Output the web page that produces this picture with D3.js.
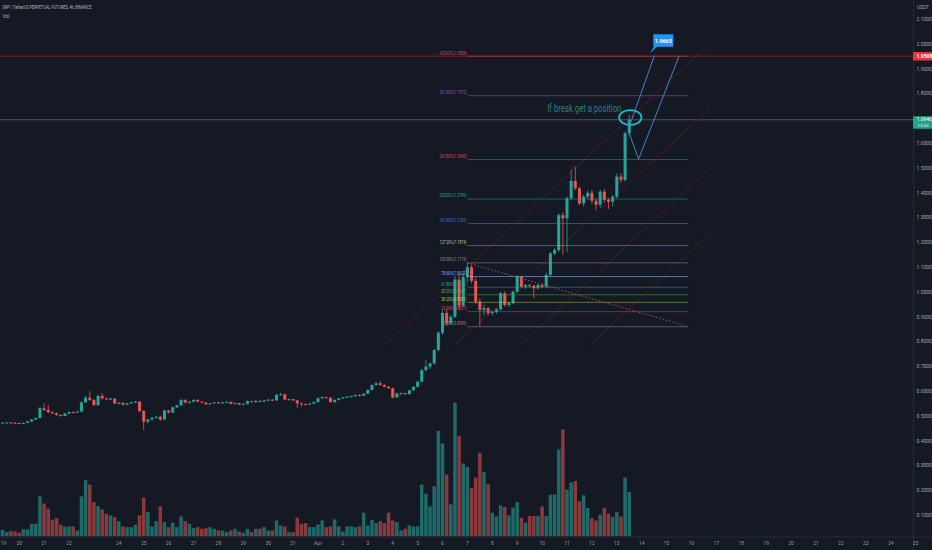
<!DOCTYPE html>
<html>
<head>
<meta charset="utf-8">
<script src="https://cdn.jsdelivr.net/npm/d3@7"></script>
<style>
  html, body { margin: 0; padding: 0; background: #151924; overflow: hidden; }
  svg { display: block; font-family: Roboto, "Liberation Sans", sans-serif; }
</style>
</head>
<body>
<script>
// 4h candles from 2021-03-19 04:00 UTC: [open, high, low, close]
const candles = [
  [.470,.473,.468,.472],[.472,.474,.470,.473],[.473,.476,.471,.474],[.474,.476,.471,.473],
  [.473,.475,.470,.472],[.472,.474,.467,.470],[.470,.474,.468,.472],[.472,.480,.471,.478],
  [.478,.488,.476,.486],[.486,.494,.484,.492],[.492,.536,.490,.531],[.531,.551,.520,.524],
  [.524,.545,.512,.515],[.515,.520,.508,.511],[.511,.514,.501,.504],[.504,.507,.497,.500],
  [.500,.512,.498,.510],[.510,.519,.507,.516],[.516,.519,.511,.514],[.514,.521,.512,.518],
  [.518,.559,.516,.555],[.555,.580,.552,.574],[.574,.600,.561,.565],[.565,.569,.540,.544],
  [.544,.586,.541,.581],[.581,.593,.567,.571],[.571,.575,.563,.567],[.567,.574,.564,.570],
  [.570,.572,.548,.551],[.551,.557,.548,.553],[.553,.556,.543,.546],[.546,.553,.543,.551],
  [.551,.558,.548,.555],[.555,.561,.552,.558],[.558,.560,.516,.520],[.520,.524,.443,.477],
  [.477,.489,.470,.486],[.486,.497,.482,.493],[.493,.500,.489,.497],[.497,.501,.480,.486],
  [.486,.526,.483,.522],[.522,.525,.510,.514],[.514,.538,.511,.535],[.535,.546,.531,.543],
  [.543,.568,.540,.565],[.565,.567,.551,.554],[.554,.560,.551,.558],[.558,.568,.555,.565],
  [.565,.567,.555,.558],[.558,.560,.551,.554],[.554,.556,.544,.547],[.547,.553,.545,.551],
  [.551,.557,.549,.555],[.555,.557,.550,.552],[.552,.558,.550,.555],[.555,.559,.553,.557],
  [.557,.559,.546,.549],[.549,.554,.547,.552],[.552,.553,.543,.546],[.546,.551,.544,.549],
  [.549,.563,.547,.560],[.560,.562,.554,.556],[.556,.564,.554,.561],[.561,.563,.556,.558],
  [.558,.565,.556,.563],[.563,.568,.561,.566],[.566,.568,.560,.563],[.563,.588,.561,.585],
  [.585,.594,.582,.588],[.588,.590,.563,.566],[.566,.570,.563,.568],[.568,.570,.560,.563],
  [.563,.565,.531,.551],[.551,.554,.538,.548],[.548,.551,.543,.546],[.546,.553,.544,.550],
  [.550,.559,.548,.556],[.556,.574,.554,.572],[.572,.579,.569,.576],[.576,.578,.570,.574],
  [.574,.575,.553,.556],[.556,.567,.554,.565],[.565,.573,.562,.571],[.571,.577,.569,.575],
  [.575,.580,.572,.578],[.578,.582,.576,.580],[.580,.587,.578,.585],[.585,.587,.579,.582],
  [.582,.592,.580,.590],[.590,.607,.588,.605],[.605,.627,.603,.625],[.625,.636,.622,.632],
  [.632,.640,.622,.625],[.625,.628,.615,.618],[.618,.621,.608,.612],[.612,.615,.570,.575],
  [.575,.594,.572,.591],[.591,.595,.587,.592],[.592,.594,.585,.588],[.588,.606,.586,.604],
  [.604,.620,.601,.618],[.618,.642,.615,.638],[.638,.690,.635,.685],[.685,.726,.680,.699],
  [.699,.716,.690,.712],[.712,.770,.708,.766],[.766,.842,.760,.836],[.836,.925,.828,.916],
  [.916,.930,.862,.874],[.874,.908,.868,.900],[.900,1.065,.895,1.050],[1.050,1.070,.930,.945],
  [.945,1.075,.940,1.060],[1.060,1.1174,1.040,1.100],[1.100,1.108,1.035,1.045],[1.045,1.058,.952,.961],
  [.961,.975,.8599,.928],[.928,.948,.905,.935],[.935,.940,.905,.915],[.915,.925,.905,.920],
  [.920,.935,.912,.930],[.930,1.000,.925,.995],[.995,1.003,.940,.948],[.948,.962,.940,.955],
  [.955,1.005,.950,1.001],[1.001,1.068,.995,1.062],[1.062,1.066,1.015,1.021],[1.021,1.032,1.012,1.028],
  [1.028,1.033,1.018,1.025],[1.025,1.030,.975,1.015],[1.015,1.032,1.010,1.028],[1.028,1.035,1.015,1.021],
  [1.021,1.078,1.018,1.069],[1.069,1.162,1.062,1.156],[1.156,1.178,1.148,1.169],[1.169,1.318,1.160,1.310],
  [1.310,1.322,1.150,1.297],[1.297,1.385,1.160,1.378],[1.378,1.495,1.370,1.448],[1.448,1.505,1.410,1.418],
  [1.418,1.425,1.350,1.357],[1.357,1.392,1.345,1.384],[1.384,1.410,1.375,1.400],[1.400,1.412,1.355,1.368],
  [1.368,1.375,1.330,1.352],[1.352,1.412,1.340,1.405],[1.405,1.415,1.360,1.372],[1.372,1.380,1.335,1.364],
  [1.364,1.392,1.345,1.384],[1.384,1.478,1.378,1.465],[1.465,1.480,1.440,1.452],[1.452,1.648,1.445,1.640],
  [1.640,1.714,1.630,1.6946]
];

// volume per candle (millions)
const volume = [
  67, 67, 43, 53, 50, 37, 73, 73, 127, 127, 400, 327, 277, 167, 183, 117, 100, 100, 100, 60,
  400, 560, 517, 343, 303, 270, 227, 210, 193, 153, 100, 93, 93, 117, 210, 387, 243, 100, 153, 300,
  143, 93, 137, 93, 200, 153, 127, 83, 93, 77, 83, 93, 77, 60, 60, 43, 60, 77, 50, 37,
  77, 43, 77, 77, 93, 60, 60, 160, 110, 100, 43, 43, 187, 127, 133, 93, 93, 120, 160, 93,
  100, 170, 100, 50, 100, 100, 93, 100, 237, 110, 167, 133, 153, 133, 237, 160, 143, 60, 77, 110,
  100, 100, 517, 427, 300, 500, 1053, 927, 617, 320, 1333, 1000, 727, 693, 483, 587, 833, 643, 520, 237,
  200, 310, 293, 210, 287, 343, 187, 137, 203, 203, 203, 300, 203, 417, 417, 867, 1067, 467, 537, 553,
  350, 410, 283, 183, 160, 217, 287, 227, 193, 243, 200, 587, 443
];

const priceTicks = [0.1, 0.2, 0.3, 0.4, 0.5, 0.6, 0.7, 0.8, 0.9, 1.0, 1.1, 1.2, 1.3, 1.4, 1.5, 1.6, 1.8, 1.9, 2.0, 2.1];

// fib retracement drawn from the Apr 7 high to the Apr 7 low
const fibRatios = ["0.00%", "23.60%", "38.20%", "50.00%", "61.80%", "78.60%", "100.00%", "127.20%", "161.80%", "200.00%", "261.80%", "361.80%", "423.60%"];
const fibPrices = [0.8599, 0.9207, 0.9583, 0.9887, 1.0190, 1.0623, 1.1174, 1.1874, 1.2765, 1.3749, 1.5340, 1.7915, 1.9508];
const fibColors = ["#8a8d96", "#e0454f", "#a7c957", "#4caf50", "#26a69a", "#7fb4f0", "#8a8d96", "#b9c4a0", "#3d74e0", "#22a58f", "#e04a55", "#a04ab8", "#d64562"];
const fibOpacity = [0.55, 0.5, 0.5, 0.5, 0.5, 0.6, 0.55, 0.4, 0.6, 0.5, 0.5, 0.55, 0.5];

const lastPrice = 1.6946;
const targetPrice = 1.9508;

const width = 932, height = 550;
const plotRight = 913, plotBottom = 536.5;
const bg = "#151924";
const upColor = "#26a69a", downColor = "#ef5350";

const startTime = Date.UTC(2021, 2, 19, 4);
const barMs = 4 * 3600 * 1000;
const times = candles.map((d, i) => new Date(startTime + i * barMs));

// Scales
const x = d3.scaleUtc()
    .domain([new Date(Date.UTC(2021, 2, 19)), new Date(Date.UTC(2021, 3, 26))])
    .range([-5.7, 940.5]);

const y = d3.scaleLinear()
    .domain([0, 2.1])
    .range([540, 19.2]);

const yVol = d3.scaleLinear()
    .domain([0, d3.max(volume)])
    .range([plotBottom, 402.7]);

const T = (mo, d, h) => new Date(Date.UTC(2021, mo, d, h || 0));

const svg = d3.select("body").append("svg")
    .attr("width", width)
    .attr("height", height)
    .attr("viewBox", [0, 0, width, height]);

svg.append("rect").attr("width", width).attr("height", height).attr("fill", bg);

svg.append("clipPath").attr("id", "plot-clip")
  .append("rect").attr("width", plotRight).attr("height", plotBottom);

const g = svg.append("g").attr("clip-path", "url(#plot-clip)");

// full width lines: target and last price
g.append("line")
    .attr("x1", 0).attr("x2", plotRight)
    .attr("y1", y(targetPrice)).attr("y2", y(targetPrice))
    .attr("stroke", "#7a2029").attr("stroke-width", 1);

g.append("line")
    .attr("x1", 0).attr("x2", plotRight)
    .attr("y1", y(lastPrice)).attr("y2", y(lastPrice))
    .attr("stroke", "#46545f").attr("stroke-width", 1);

// Volume
const volColor = (d, i) => candles[i][3] >= candles[i][0] ? "rgba(38,166,154,0.58)" : "rgba(239,83,80,0.55)";
g.selectAll(".vol")
    .data(volume)
    .enter()
    .append("rect")
    .attr("class", "vol")
    .attr("x", (d, i) => x(times[i]) - 1.75)
    .attr("width", 3.5)
    .attr("y", d => yVol(d))
    .attr("height", d => plotBottom - yVol(d))
    .attr("fill", volColor);

// channel lines (behind candles)
const fanLines = [
    [[T(3, 3, 16), 0.786], [T(3, 16, 18), 2.004]],
    [[T(3, 6, 12), 0.786], [T(3, 16, 18), 1.742]],
    [[T(3, 9, 3), 0.786], [T(3, 16, 18), 1.500]],
    [[T(3, 11, 22), 0.786], [T(3, 16, 18), 1.238]]
];
g.selectAll(".fan")
    .data(fanLines)
    .enter()
    .append("line")
    .attr("class", "fan")
    .attr("x1", d => x(d[0][0])).attr("y1", d => y(d[0][1]))
    .attr("x2", d => x(d[1][0])).attr("y2", d => y(d[1][1]))
    .attr("stroke", "#541b27")
    .attr("stroke-width", 0.9);

// Candles
const candle = g.selectAll(".candle")
    .data(candles)
    .enter()
    .append("g")
    .attr("class", "candle")
    .attr("transform", (d, i) => `translate(${x(times[i])},0)`);

candle.append("line")
    .attr("y1", d => y(d[1]))
    .attr("y2", d => y(d[2]))
    .attr("stroke", d => d[3] >= d[0] ? upColor : downColor)
    .attr("stroke-width", 0.8);

candle.append("rect")
    .attr("x", -1.5)
    .attr("width", 3)
    .attr("y", d => y(Math.max(d[0], d[3])))
    .attr("height", d => Math.max(1, Math.abs(y(d[0]) - y(d[3]))))
    .attr("fill", d => d[3] >= d[0] ? upColor : downColor);

// Fib levels
const fibStart = T(3, 7, 0), fibEnd = T(3, 15, 21);
g.selectAll(".fib")
    .data(fibPrices)
    .enter()
    .append("line")
    .attr("class", "fib")
    .attr("x1", x(fibStart)).attr("x2", x(fibEnd))
    .attr("y1", d => y(d)).attr("y2", d => y(d))
    .attr("stroke", (d, i) => fibColors[i])
    .attr("stroke-opacity", (d, i) => fibOpacity[i])
    .attr("stroke-width", 1);

g.selectAll(".fib-label")
    .data(fibPrices)
    .enter()
    .append("text")
    .attr("class", "fib-label")
    .attr("x", x(fibStart) - 1)
    .attr("y", d => y(d) - 1.6)
    .attr("text-anchor", "end")
    .style("font-size", "4.6px")
    .attr("fill", (d, i) => fibColors[i])
    .text((d, i) => `${fibRatios[i]}(${d.toFixed(4)})`)
    .attr("textLength", (d, i) => (fibRatios[i].length + 8) * 1.8)
    .attr("lengthAdjust", "spacingAndGlyphs");

// dashed trend line from the swing high
g.append("line")
    .attr("x1", x(fibStart)).attr("y1", y(1.1174))
    .attr("x2", x(T(3, 15, 19))).attr("y2", y(0.863))
    .attr("stroke", "#a8525f")
    .attr("stroke-width", 1)
    .attr("stroke-dasharray", "1.5,2");

// projected paths
const pathLine = d3.line().x(d => x(d[0])).y(d => y(d[1]));
const paths = [
    [[T(3, 13, 12), 1.6665], [T(3, 14, 12), 1.9508]],
    [[T(3, 13, 12), 1.640], [T(3, 13, 21), 1.536], [T(3, 15, 12), 1.9508]]
];
g.selectAll(".proj")
    .data(paths)
    .enter()
    .append("path")
    .attr("class", "proj")
    .attr("d", pathLine)
    .attr("fill", "none")
    .attr("stroke", "#4a8fd6")
    .attr("stroke-width", 0.9);

// ellipse around the breakout candle
g.append("ellipse")
    .attr("cx", x(T(3, 13, 13)))
    .attr("cy", y(1.7036))
    .attr("rx", 11.2)
    .attr("ry", 7.3)
    .attr("fill", "none")
    .attr("stroke", "#22b4c8")
    .attr("stroke-width", 1.8);

g.append("text")
    .attr("x", x(T(3, 10, 5)))
    .attr("y", y(1.726))
    .attr("fill", "#2a7f82")
    .style("font-size", "10px")
    .attr("textLength", 74)
    .attr("lengthAdjust", "spacingAndGlyphs")
    .text("If break get a position");

// target callout
const cx0 = x(T(3, 14, 8)), cy0 = y(1.9625);
const callout = g.append("g").attr("transform", `translate(${cx0},${cy0})`);
callout.append("path")
    .attr("d", "M0,0 L4,-7 L3.3,-7 L3.3,-19 L23.3,-19 L23.3,-6.6 L7,-6.6 Z")
    .attr("fill", "#2196f3");
callout.append("text")
    .attr("x", 13.3)
    .attr("y", -10.8)
    .attr("text-anchor", "middle")
    .attr("fill", "#ffffff")
    .style("font-size", "5.4px")
    .style("font-weight", "bold")
    .text("1.9665");

// Axes
svg.append("line")
    .attr("x1", plotRight + 0.5).attr("x2", plotRight + 0.5)
    .attr("y1", 0).attr("y2", height)
    .attr("stroke", "#262a35");
svg.append("line")
    .attr("x1", 0).attr("x2", width)
    .attr("y1", plotBottom + 0.5).attr("y2", plotBottom + 0.5)
    .attr("stroke", "#262a35");

svg.selectAll(".ptick")
    .data(priceTicks)
    .enter()
    .append("text")
    .attr("class", "ptick")
    .attr("x", 916.5)
    .attr("y", d => y(d))
    .attr("dy", "0.35em")
    .attr("fill", "#a3a6af")
    .style("font-size", "5px")
    .text(d => d.toFixed(4));

svg.append("text")
    .attr("x", 917)
    .attr("y", 8.5)
    .attr("fill", "#a3a6af")
    .style("font-size", "4.8px")
    .text("USDT");

// price tags
svg.append("rect")
    .attr("x", plotRight).attr("width", 19)
    .attr("y", y(targetPrice) - 4.3).attr("height", 8.6)
    .attr("rx", 1)
    .attr("fill", "#e8323f");
svg.append("text")
    .attr("x", 916.5).attr("y", y(targetPrice)).attr("dy", "0.35em")
    .attr("fill", "#fff").style("font-size", "5px").style("font-weight", "bold")
    .text(targetPrice.toFixed(4));

svg.append("rect")
    .attr("x", plotRight).attr("width", 19)
    .attr("y", y(lastPrice) - 3.6).attr("height", 12.6)
    .attr("rx", 1)
    .attr("fill", "#22a28f");
svg.append("text")
    .attr("x", 916.5).attr("y", y(lastPrice)).attr("dy", "0.35em")
    .attr("fill", "#fff").style("font-size", "5px")
    .text(lastPrice.toFixed(4));
svg.append("text")
    .attr("x", 917.5).attr("y", y(lastPrice) + 5.8).attr("dy", "0.35em")
    .attr("fill", "#d8f0ec").style("font-size", "4.4px")
    .text("23:50");

// time axis (first label kept inside the frame)
const days = d3.utcDay.range(T(2, 19), T(3, 26)).filter(d => !(d.getUTCMonth() === 2 && d.getUTCDate() === 23));
svg.selectAll(".dtick")
    .data(days)
    .enter()
    .append("text")
    .attr("class", "dtick")
    .attr("x", d => Math.max(x(d), 3.5))
    .attr("y", 544.5)
    .attr("text-anchor", "middle")
    .attr("fill", "#8f939e")
    .style("font-size", "5px")
    .text(d => d.getUTCDate() === 1 ? "Apr" : d.getUTCDate());

// legend
svg.append("text")
    .attr("x", 2.5).attr("y", 9)
    .attr("fill", "#b2b5be")
    .style("font-size", "4.8px")
    .attr("textLength", 89)
    .attr("lengthAdjust", "spacingAndGlyphs")
    .text("XRP / TetherUS PERPETUAL FUTURES, 4h, BINANCE");
svg.append("text")
    .attr("x", 2.5).attr("y", 17.5)
    .attr("fill", "#b2b5be")
    .style("font-size", "4.8px")
    .text("Vol");
</script>
</body>
</html>
